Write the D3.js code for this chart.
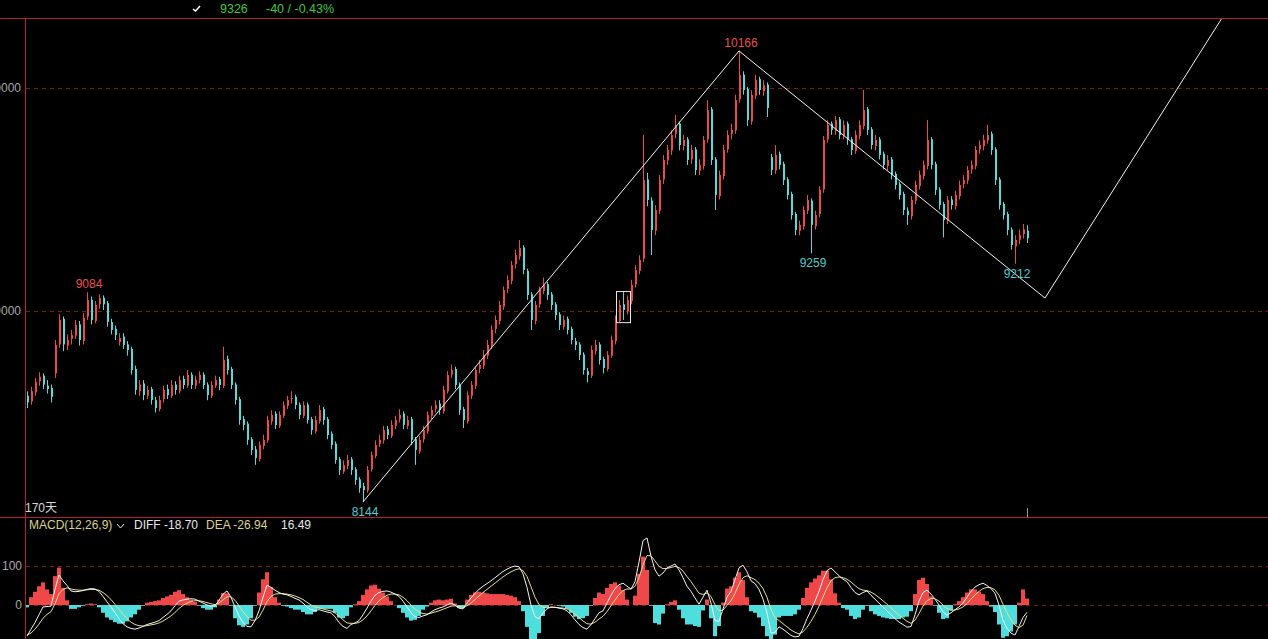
<!DOCTYPE html>
<html>
<head>
<meta charset="utf-8">
<title>K line + MACD</title>
<script src="https://d3js.org/d3.v7.min.js"></script>
<style>
body { margin: 0; background: #000; overflow: hidden; }
svg { display: block; background: #000; font-family: "Liberation Sans", Arial, "Noto Sans CJK SC", sans-serif; font-size: 12px; }
</style>
</head>
<body>
<svg width="1268" height="639"></svg>
<script>

// ---- data ----
var opens = [
 8620,8595,8635,8685,8710,8665,8655,8720,8850,8965,
 8845,8875,8890,8940,8865,8975,9050,8955,9030,9060,
 9035,8950,8920,8860,8885,8850,8830,8740,8640,8675,
 8620,8650,8600,8560,8605,8650,8620,8670,8640,8695,
 8665,8715,8665,8690,8715,8670,8620,8665,8695,8665,
 8785,8740,8670,8605,8515,8495,8425,8380,8335,8395,
 8420,8505,8540,8485,8530,8575,8605,8615,8580,8530,
 8580,8515,8460,8505,8560,8515,8450,8405,8335,8280,
 8305,8335,8290,8245,8215,8195,8290,8350,8405,8420,
 8470,8440,8485,8515,8540,8485,8515,8425,8370,8425,
 8460,8530,8560,8585,8550,8640,8715,8740,8670,8560,
 8505,8620,8665,8740,8755,8800,8845,8920,8955,9020,
 9100,9135,9210,9245,9285,9180,9075,8955,9030,9090,
 9120,9075,9030,8985,8930,8965,8920,8865,8850,8805,
 8730,8710,8820,8850,8785,8740,8800,8865,8955,9030,
 9000,9045,9120,9180,9235,9590,9495,9360,9450,9590,
 9675,9720,9795,9840,9740,9770,9680,9725,9630,9650,
 9770,9905,9680,9515,9605,9725,9795,9810,9950,10060,
 9995,9850,9965,10040,9985,10015,9690,9630,9705,9660,
 9590,9525,9435,9360,9380,9450,9495,9380,9435,9545,
 9770,9840,9808,9860,9785,9840,9770,9718,9785,9830,
 9905,9815,9740,9770,9705,9650,9680,9615,9570,9525,
 9450,9425,9495,9560,9605,9650,9770,9660,9545,9480,
 9405,9500,9470,9515,9570,9585,9635,9650,9725,9740,
 9765,9795,9725,9590,9480,9435,9365,9290,9320,9345,
 9360];
var highs = [
 8640,8660,8700,8725,8720,8690,8670,8870,8985,8975,
 8895,8915,8960,8955,8990,9084,9065,9045,9075,9070,
 9045,8965,8935,8900,8900,8865,8840,8755,8690,8690,
 8665,8660,8615,8620,8665,8670,8690,8685,8710,8710,
 8735,8725,8710,8730,8725,8680,8685,8710,8705,8840,
 8800,8750,8680,8615,8530,8505,8435,8395,8415,8445,
 8530,8555,8550,8550,8595,8620,8640,8625,8590,8595,
 8590,8525,8530,8578,8570,8525,8460,8415,8345,8330,
 8355,8345,8300,8255,8230,8305,8370,8420,8445,8485,
 8485,8510,8530,8560,8550,8530,8525,8435,8440,8485,
 8550,8575,8600,8600,8665,8730,8760,8750,8680,8570,
 8640,8685,8750,8780,8825,8870,8935,8980,9045,9110,
 9160,9225,9275,9318,9295,9190,9085,9045,9110,9150,
 9130,9085,9040,8995,8980,8975,8930,8880,8860,8815,
 8745,8845,8870,8860,8795,8820,8890,8980,9050,9085,
 9070,9140,9205,9250,9790,9620,9510,9475,9610,9700,
 9745,9810,9880,9850,9790,9780,9745,9735,9680,9785,
 9946,9915,9690,9630,9745,9810,9840,9970,10166,10075,
 10005,9990,10060,10050,10035,10025,9705,9744,9715,9670,
 9600,9535,9445,9405,9470,9520,9505,9450,9560,9785,
 9855,9850,9875,9870,9855,9850,9780,9810,9855,9991,
 9915,9825,9790,9780,9715,9700,9690,9625,9580,9535,
 9465,9515,9585,9630,9675,9856,9780,9670,9555,9490,
 9515,9515,9540,9585,9610,9650,9675,9740,9765,9790,
 9835,9805,9735,9600,9490,9445,9375,9340,9365,9390,
 9385];
var lows = [
 8565,8580,8620,8665,8650,8630,8590,8700,8835,8820,
 8825,8850,8875,8845,8850,8960,8940,8945,9010,9005,
 8930,8895,8870,8845,8830,8800,8715,8625,8620,8600,
 8605,8580,8545,8550,8590,8605,8610,8625,8630,8650,
 8655,8650,8650,8675,8650,8600,8610,8655,8645,8655,
 8715,8650,8580,8490,8465,8400,8355,8310,8325,8380,
 8410,8490,8470,8475,8520,8560,8585,8560,8515,8520,
 8495,8445,8450,8495,8490,8425,8380,8315,8265,8270,
 8290,8265,8220,8185,8144,8185,8280,8340,8390,8405,
 8425,8430,8470,8500,8470,8470,8400,8310,8360,8410,
 8450,8515,8545,8535,8540,8630,8700,8650,8535,8475,
 8495,8605,8650,8720,8740,8785,8830,8900,8940,9005,
 9080,9120,9190,9230,9165,9050,8915,8940,9015,9075,
 9050,9005,8960,8915,8915,8895,8850,8825,8780,8715,
 8680,8700,8805,8760,8720,8730,8790,8850,8950,8960,
 8985,9030,9105,9165,9220,9470,9251,9340,9435,9570,
 9655,9700,9775,9720,9720,9655,9660,9610,9610,9635,
 9755,9655,9453,9500,9590,9710,9770,9795,9935,9970,
 9830,9835,9950,9970,9965,9870,9610,9615,9635,9565,
 9500,9410,9340,9340,9365,9435,9259,9365,9420,9530,
 9755,9790,9790,9770,9770,9745,9700,9705,9770,9815,
 9790,9725,9720,9680,9635,9630,9590,9545,9500,9430,
 9386,9410,9480,9545,9590,9635,9635,9520,9455,9330,
 9390,9455,9455,9500,9550,9570,9615,9635,9705,9720,
 9750,9700,9565,9455,9410,9340,9275,9212,9300,9325,
 9305];
var closes = [
 8590,8640,8680,8705,8670,8650,8615,8848,8960,8850,
 8870,8892,8937,8870,8969,9049,8960,9027,9058,9030,
 8951,8915,8892,8879,8848,8825,8735,8646,8670,8623,
 8646,8601,8565,8601,8646,8623,8668,8646,8691,8668,
 8713,8668,8691,8713,8668,8623,8668,8691,8668,8780,
 8735,8668,8601,8511,8489,8422,8377,8341,8399,8422,
 8511,8534,8489,8534,8578,8601,8610,8578,8534,8578,
 8511,8466,8511,8556,8511,8444,8399,8332,8287,8309,
 8332,8287,8242,8206,8197,8287,8354,8399,8422,8466,
 8444,8489,8511,8534,8489,8511,8422,8377,8422,8466,
 8534,8556,8578,8556,8646,8713,8735,8668,8556,8511,
 8623,8668,8735,8758,8803,8848,8915,8960,9027,9094,
 9139,9206,9251,9282,9184,9072,8960,9027,9094,9117,
 9072,9027,8982,8937,8960,8915,8870,8848,8803,8735,
 8713,8825,8848,8780,8744,8803,8870,8960,9027,9004,
 9049,9117,9184,9229,9587,9498,9363,9453,9587,9677,
 9722,9789,9834,9744,9767,9677,9722,9632,9655,9767,
 9901,9677,9520,9610,9722,9789,9812,9946,10058,9991,
 9856,9969,10036,9991,10013,9910,9632,9700,9655,9587,
 9520,9430,9363,9386,9453,9498,9386,9430,9543,9767,
 9834,9812,9856,9789,9834,9767,9722,9789,9834,9901,
 9812,9744,9767,9700,9655,9677,9610,9565,9520,9453,
 9430,9498,9565,9610,9655,9767,9655,9543,9475,9408,
 9498,9475,9520,9565,9587,9632,9655,9722,9744,9767,
 9789,9722,9587,9475,9430,9363,9296,9318,9341,9366,
 9326];

// MACD lines
var diffs = [
 -80,-62,-45,-25,-5,-4,-3,40,77,62,
 50,36,34,35,37,40,42,41,35,22,
 8,-5,-20,-35,-48,-56,-60,-62,-59,-55,
 -50,-47,-44,-40,-32,-24,-15,-2,10,13,
 15,16,15,10,5,0,-3,-2,12,28,
 36,20,-5,-28,-45,-55,-56,-40,-15,20,
 51,45,38,32,28,26,22,17,13,5,
 -5,-12,-14,-12,-15,-18,-20,-30,-45,-55,
 -60,-50,-46,-40,-25,-8,10,25,32,35,
 36,33,28,22,10,-5,-20,-30,-32,-28,
 -25,-18,-12,-8,-5,0,5,0,-8,-10,
 5,18,30,40,48,55,62,70,78,86,
 92,97,100,98,80,45,0,-30,-35,-20,
 -10,-5,-6,-8,-10,-15,-25,-38,-50,-58,
 -62,-50,-35,-20,-15,5,25,42,52,56,
 48,41,60,110,165,172,125,90,74,82,
 95,100,105,90,70,48,35,18,2,20,
 38,5,-40,-42,-10,20,35,65,95,102,
 85,62,55,40,15,-20,-72,-70,-56,-62,
 -70,-78,-82,-80,-60,-35,-13,10,35,65,
 88,95,85,75,66,60,45,32,26,32,
 36,25,15,5,-5,-15,-25,-35,-44,-50,
 -57,-55,-25,10,32,38,28,15,0,-18,
 -26,-20,-12,-5,5,20,35,46,52,56,
 50,42,30,0,-40,-60,-72,-77,-55,-32,
 -18.70];
var deas = [
 -77,-72,-62,-49,-34,-24,-17,3,29,40,
 44,41,39,38,38,39,40,40,38,32,
 24,14,2,-11,-24,-35,-44,-50,-53,-54,
 -53,-51,-49,-46,-41,-35,-28,-19,-9,-1,
 5,9,11,11,9,6,3,1,5,13,
 21,21,12,-2,-17,-30,-39,-39,-31,-13,
 9,22,28,29,29,28,26,23,19,14,
 7,0,-5,-7,-10,-13,-15,-20,-29,-38,
 -46,-47,-47,-45,-38,-28,-15,-1,11,19,
 25,28,28,26,20,11,0,-11,-18,-22,
 -23,-21,-18,-15,-11,-7,-3,-2,-4,-6,
 -2,5,14,23,32,40,48,56,64,72,
 79,85,90,93,88,73,47,20,1,-6,
 -7,-6,-6,-7,-8,-10,-15,-23,-32,-41,
 -48,-49,-44,-36,-29,-17,-2,13,27,37,
 41,41,48,70,103,127,126,113,99,93,
 94,96,99,96,87,73,60,45,30,27,
 31,22,0,-15,-13,-1,11,30,53,70,
 75,70,65,56,42,20,-12,-32,-40,-48,
 -56,-64,-70,-74,-69,-57,-42,-24,-3,21,
 44,62,70,72,70,66,59,50,42,38,
 37,33,27,19,11,2,-7,-17,-26,-34,
 -42,-47,-39,-22,-3,11,17,16,10,0,
 -9,-13,-13,-10,-5,4,15,26,35,42,
 45,44,39,25,2,-20,-38,-52,-58,-52,
 -26.94];
var macdLast = 16.49;

var priceTicks = [9000, 10000];
var macdTicks = [-100, 0, 100];
var macdGrid = [0, 100];

// marked extremes: [candle index, 'high' | 'low']
var extremes = [[15, "high"], [178, "high"], [84, "low"], [196, "low"], [247, "low"]];
// hand drawn trend line, [candle index, price]
var trendPts = [[84, 8144], [178, 10166], [254.5, 9058], [298.75, 10314]];
// boxed candles
var boxFrom = 148, boxTo = 150;

var lastPrice = "9326", lastChange = "-40 / -0.43%";

// ---- layout ----
var W = 1268, H = 639;
var padL = 25, padT = 18, split = 517;

var svg = d3.select("svg");

var x = d3.scaleLinear().domain([0, closes.length - 1]).range([27, 1027]);
var y = d3.scaleLinear().domain([9000, 10000]).range([311, 88]);
var ym = d3.scaleLinear().domain([0, 100]).range([605, 566]);

var upColor = "#f04848", downColor = "#4fdede";
var frameColor = "#b0203c", gridColor = "#7a1c1c";

var defs = svg.append("defs");
defs.append("clipPath").attr("id", "clipMain").append("rect")
  .attr("x", padL + 1).attr("y", padT + 1).attr("width", W - padL).attr("height", split - padT - 1);
defs.append("clipPath").attr("id", "clipMacd").append("rect")
  .attr("x", padL + 1).attr("y", split + 1).attr("width", W - padL).attr("height", H - split);

// grid
svg.selectAll("line.pgrid").data(priceTicks).enter().append("line")
  .attr("class", "pgrid")
  .attr("x1", padL + 1).attr("x2", W)
  .attr("y1", function(d) { return Math.round(y(d)) + 0.5; })
  .attr("y2", function(d) { return Math.round(y(d)) + 0.5; })
  .attr("stroke", gridColor).attr("stroke-dasharray", "4,4");
svg.selectAll("line.mgrid").data(macdGrid).enter().append("line")
  .attr("class", "mgrid")
  .attr("x1", padL + 1).attr("x2", W)
  .attr("y1", function(d) { return Math.round(ym(d)) + 0.5; })
  .attr("y2", function(d) { return Math.round(ym(d)) + 0.5; })
  .attr("stroke", gridColor).attr("stroke-dasharray", "4,4");

// axes (labels only)
function styleAxis(g) {
  g.select(".domain").remove();
  g.attr("font-family", null).attr("font-size", 12);
  g.selectAll("text").attr("fill", "#a8a8a8");
}
svg.append("g").attr("transform", "translate(" + padL + ",0)")
  .call(d3.axisLeft(y).tickValues(priceTicks).tickSize(0).tickPadding(4).tickFormat(d3.format("d")))
  .call(styleAxis);
svg.append("g").attr("transform", "translate(" + padL + ",0)")
  .call(d3.axisLeft(ym).tickValues(macdTicks).tickSize(0).tickPadding(3).tickFormat(function(d) { return String(d); }))
  .call(styleAxis);

// candles
var main = svg.append("g").attr("clip-path", "url(#clipMain)");
var idx = d3.range(closes.length);
var cg = main.selectAll("g.candle").data(idx).enter().append("g").attr("class", "candle")
  .attr("fill", function(i) { return closes[i] >= opens[i] ? upColor : downColor; });
cg.append("rect")
  .attr("x", function(i) { return x(i); })
  .attr("width", 1)
  .attr("y", function(i) { return y(highs[i]); })
  .attr("height", function(i) { return Math.max(1, y(lows[i]) - y(highs[i])); });
cg.append("rect")
  .attr("x", function(i) { return x(i); })
  .attr("width", 2)
  .attr("y", function(i) { return y(Math.max(opens[i], closes[i])); })
  .attr("height", function(i) { return Math.max(1, Math.abs(y(opens[i]) - y(closes[i]))); });

// trend line
main.append("path")
  .datum(trendPts)
  .attr("fill", "none").attr("stroke", "#f2f2f2").attr("stroke-width", 1)
  .attr("d", d3.line().x(function(d) { return x(d[0]); }).y(function(d) { return y(d[1]); }));

// box around a few candles
var boxHi = d3.max(d3.range(boxFrom, boxTo + 1), function(i) { return highs[i]; });
var boxLo = d3.min(d3.range(boxFrom, boxTo + 1), function(i) { return lows[i]; });
main.append("rect")
  .attr("x", x(boxFrom) - 2.5).attr("y", y(boxHi) - 0.5)
  .attr("width", x(boxTo) - x(boxFrom) + 6).attr("height", y(boxLo) - y(boxHi) + 1)
  .attr("fill", "none").attr("stroke", "#e8e8e8");

// extreme labels
svg.selectAll("text.ext").data(extremes).enter().append("text")
  .attr("class", "ext")
  .attr("x", function(d) { return x(d[0]) + 2; })
  .attr("y", function(d) { return d[1] == "high" ? y(highs[d[0]]) - 4 : y(lows[d[0]]) + 14; })
  .attr("text-anchor", "middle")
  .attr("fill", function(d) { return d[1] == "high" ? "#e85050" : "#52cccc"; })
  .text(function(d) { return d[1] == "high" ? highs[d[0]] : lows[d[0]]; });

// MACD histogram + lines
var macdG = svg.append("g").attr("clip-path", "url(#clipMacd)");
var hist = idx.map(function(i) { return 2 * (diffs[i] - deas[i]); });
macdG.selectAll("rect.bar").data(idx).enter().append("rect")
  .attr("class", "bar")
  .attr("x", function(i) { return x(i) - 2; })
  .attr("width", 4)
  .attr("y", function(i) { return Math.min(ym(0), ym(hist[i])); })
  .attr("height", function(i) { return Math.abs(ym(hist[i]) - ym(0)); })
  .attr("fill", function(i) { return hist[i] >= 0 ? upColor : downColor; });
macdG.append("path").datum(deas)
  .attr("fill", "none").attr("stroke", "#e6df90").attr("stroke-width", 1)
  .attr("d", d3.line().x(function(d, i) { return x(i); }).y(function(d) { return ym(d); }));
macdG.append("path").datum(diffs)
  .attr("fill", "none").attr("stroke", "#f4f4f4").attr("stroke-width", 1)
  .attr("d", d3.line().x(function(d, i) { return x(i); }).y(function(d) { return ym(d); }));

// frame
svg.append("line").attr("x1", 0).attr("x2", W).attr("y1", padT + 0.5).attr("y2", padT + 0.5).attr("stroke", frameColor);
svg.append("line").attr("x1", 0).attr("x2", W).attr("y1", split + 0.5).attr("y2", split + 0.5).attr("stroke", frameColor);
svg.append("line").attr("x1", padL + 0.5).attr("x2", padL + 0.5).attr("y1", padT).attr("y2", H).attr("stroke", frameColor);

// last candle marker
svg.append("line")
  .attr("x1", x(closes.length - 1) + 0.5).attr("x2", x(closes.length - 1) + 0.5)
  .attr("y1", split - 9).attr("y2", split)
  .attr("stroke", "#9a9a9a");

// header
svg.append("path").attr("d", "M193,9 L195.5,11 L200,6").attr("fill", "none").attr("stroke", "#ffffff").attr("stroke-width", 1.5);
svg.append("text").attr("x", 220).attr("y", 13).attr("fill", "#3ec83e").attr("font-size", 12.5).text(lastPrice);
svg.append("text").attr("x", 266).attr("y", 13).attr("fill", "#3ec83e").attr("font-size", 12.5).text(lastChange);

svg.append("text").attr("x", 25).attr("y", 512).attr("fill", "#d8d8d8").text("170天");

// MACD legend
var leg = svg.append("g").attr("font-size", 12);
leg.append("text").attr("x", 29).attr("y", 529).attr("fill", "#dcd28c").text("MACD(12,26,9)");
leg.append("path").attr("d", "M117,524 L120.5,528 L124,524").attr("fill", "none").attr("stroke", "#e8e8e8");
leg.append("text").attr("x", 134).attr("y", 529).attr("fill", "#e8e8e8").text("DIFF " + diffs[diffs.length - 1].toFixed(2));
leg.append("text").attr("x", 206).attr("y", 529).attr("fill", "#dcd28c").text("DEA " + deas[deas.length - 1].toFixed(2));
leg.append("text").attr("x", 281).attr("y", 529).attr("fill", "#e8e8e8").text(macdLast.toFixed(2));

</script>
</body>
</html>
